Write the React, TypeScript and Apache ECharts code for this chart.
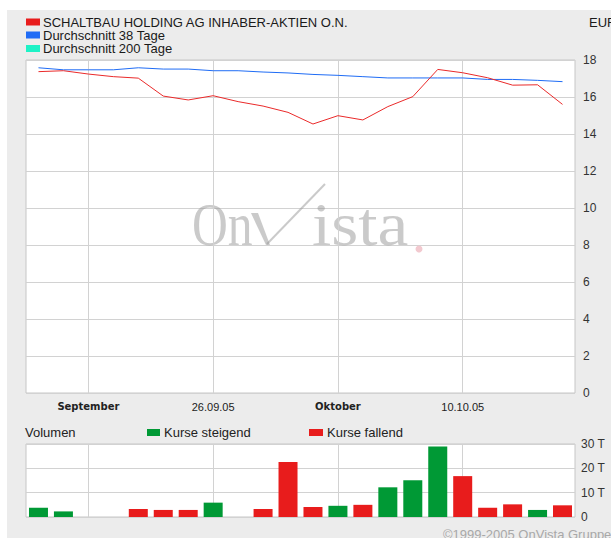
import React, { useEffect, useRef } from "react";
import * as echarts from "echarts";

// ---- data ----
const dates = [
  "15.09.05", "16.09.05", "19.09.05", "20.09.05", "21.09.05", "22.09.05", "23.09.05",
  "26.09.05", "27.09.05", "28.09.05", "29.09.05", "30.09.05", "03.10.05", "04.10.05",
  "05.10.05", "06.10.05", "07.10.05", "10.10.05", "11.10.05", "12.10.05", "13.10.05", "14.10.05",
];
const tickDates = ["19.09.05", "26.09.05", "03.10.05", "10.10.05"];
const tickTexts = ["September", "26.09.05", "Oktober", "10.10.05"];
const tickIsMonth = [true, false, true, false];

const priceName = "SCHALTBAU HOLDING AG INHABER-AKTIEN O.N.";
const ma38Name = "Durchschnitt 38 Tage";
const ma200Name = "Durchschnitt 200 Tage";

const price = [
  17.37, 17.42, 17.24, 17.1, 17.02, 16.05, 15.84, 16.07, 15.75, 15.51, 15.17,
  14.54, 14.99, 14.76, 15.48, 16.02, 17.49, 17.31, 17.04, 16.64, 16.66, 15.6,
];
const ma38 = [
  17.58, 17.47, 17.47, 17.47, 17.58, 17.51, 17.51, 17.42, 17.42, 17.35, 17.3,
  17.22, 17.17, 17.1, 17.03, 17.03, 17.03, 17.03, 16.95, 16.95, 16.9, 16.83,
];
// volume in thousands (T)
const volume = [
  3.8, 2.3, null, null, 3.3, 2.9, 2.9, 5.9, null, 3.3, 22.6,
  4.1, 4.6, 5.0, 12.2, 15.1, 29.0, 16.8, 3.8, 5.2, 2.9, 4.8,
];
const volumeUp = [
  true, true, false, false, false, false, false, true, false, false, false,
  false, true, false, true, true, true, false, false, false, true, false,
];
const priceTicks = { min: 0, max: 18, interval: 2 };
const volumeTicks = { min: 0, max: 30, interval: 10, unit: " T" };
const volumeLegend = ["Volumen", "Kurse steigend", "Kurse fallend"];
const currency = "EUR";
const copyright = "©1999-2005 OnVista Gruppe";

const RED = "#e81c1c";
const LINE_RED = "#ea2a2a";
const BLUE = "#1f6cf5";
const CYAN = "#1ef2c6";
const GREEN = "#009935";
const GRID = "#d2d2d2";
const SANS = "Liberation Sans, Arial, sans-serif";

export default function App() {
  const ref = useRef<HTMLDivElement>(null);
  useEffect(() => {
    if (!ref.current) return;
    const chart = echarts.init(ref.current, undefined, { renderer: "svg" });
    const vLines = {
      silent: true,
      symbol: ["none", "none"],
      z: 1,
      label: { show: false },
      emphasis: { disabled: true },
      lineStyle: { color: GRID, type: "solid", width: 1 },
      data: tickDates.map((d) => ({ xAxis: d })),
    };
    const legendRows = [
      { name: priceName, color: RED, y: 22 },
      { name: ma38Name, color: BLUE, y: 35 },
      { name: ma200Name, color: CYAN, y: 48.5 },
    ];
    const graphic: any[] = [];
    legendRows.forEach((r) => {
      graphic.push({
        type: "rect",
        shape: { x: 26, y: r.y - 3.5, width: 14, height: 7 },
        style: { fill: r.color },
      });
      graphic.push({
        type: "text",
        x: 43,
        y: r.y,
        style: { text: r.name, fill: "#1a1a1a", fontSize: 13, fontFamily: SANS, verticalAlign: "middle" },
      });
    });
    graphic.push({
      type: "text",
      x: 589,
      y: 22,
      style: { text: currency, fill: "#1a1a1a", fontSize: 13, fontFamily: SANS, verticalAlign: "middle" },
    });
    // volume legend
    graphic.push({
      type: "text", x: 25, y: 432,
      style: { text: volumeLegend[0], fill: "#222", fontSize: 13, fontFamily: SANS, verticalAlign: "middle" },
    });
    graphic.push({ type: "rect", shape: { x: 147, y: 429, width: 13, height: 7 }, style: { fill: GREEN } });
    graphic.push({
      type: "text", x: 164, y: 432,
      style: { text: volumeLegend[1], fill: "#222", fontSize: 13, fontFamily: SANS, verticalAlign: "middle" },
    });
    graphic.push({ type: "rect", shape: { x: 309, y: 429, width: 14, height: 7 }, style: { fill: RED } });
    graphic.push({
      type: "text", x: 327, y: 432,
      style: { text: volumeLegend[2], fill: "#222", fontSize: 13, fontFamily: SANS, verticalAlign: "middle" },
    });
    graphic.push({
      type: "text", x: 443, y: 534,
      style: { text: copyright, fill: "#a8a8a8", fontSize: 13, fontFamily: SANS, verticalAlign: "middle" },
    });
    // watermark
    const WM = "rgba(150,150,150,0.5)";
    graphic.push({
      type: "text", x: 192, y: 224, scaleX: 0.8, z: 1,
      style: { text: "On", fill: WM, fontSize: 62, fontFamily: "Liberation Serif, serif", verticalAlign: "middle" },
    });
    graphic.push({
      type: "polygon", z: 1,
      shape: { points: [[251, 213], [258, 213], [270, 245], [266, 245]] },
      style: { fill: WM },
    });
    graphic.push({
      type: "line", z: 1,
      shape: { x1: 267, y1: 244, x2: 325, y2: 184 },
      style: { stroke: WM, lineWidth: 2 },
    });
    graphic.push({
      type: "text", x: 312, y: 224, scaleX: 1.12, z: 1,
      style: { text: "ista", fill: WM, fontSize: 62, fontFamily: "Liberation Serif, serif", verticalAlign: "middle" },
    });
    graphic.push({ type: "circle", z: 1, shape: { cx: 419, cy: 249, r: 3.5 }, style: { fill: "#f2c9cf" } });

    const option: any = {
      animation: false,
      backgroundColor: "transparent",
      textStyle: { fontFamily: SANS },
      grid: [
        { left: 26, right: 36, top: 60, height: 333, show: true, backgroundColor: "#fff", borderColor: "#c6c6c6", borderWidth: 1 },
        { left: 26, right: 36, top: 444, height: 73, show: true, backgroundColor: "#fff", borderColor: "#c6c6c6", borderWidth: 1 },
      ],
      xAxis: [
        {
          type: "category", gridIndex: 0, data: dates, boundaryGap: true,
          axisLine: { show: false }, axisTick: { show: false }, splitLine: { show: false },
          axisLabel: {
            interval: (_i: number, v: string) => tickDates.includes(v),
            formatter: (v: string) => {
              const k = tickDates.indexOf(v);
              if (k < 0) return "";
              return tickIsMonth[k] ? `{m|${tickTexts[k]}}` : `{d|${tickTexts[k]}}`;
            },
            margin: 8,
            rich: {
              m: { fontFamily: "DejaVu Sans, sans-serif", fontWeight: "bold", fontSize: 10, color: "#222" },
              d: { fontFamily: SANS, fontSize: 11, color: "#222" },
            },
          },
        },
        {
          type: "category", gridIndex: 1, data: dates, boundaryGap: true,
          axisLine: { show: false }, axisTick: { show: false }, splitLine: { show: false }, axisLabel: { show: false },
        },
      ],
      yAxis: [
        {
          type: "value", gridIndex: 0, position: "right", ...priceTicks,
          axisLine: { show: false }, axisTick: { show: false },
          axisLabel: { margin: 8, fontSize: 12, color: "#333", fontFamily: SANS },
          splitLine: { lineStyle: { color: GRID, width: 1 } },
        },
        {
          type: "value", gridIndex: 1, position: "right",
          min: volumeTicks.min, max: volumeTicks.max, interval: volumeTicks.interval,
          axisLine: { show: false }, axisTick: { show: false },
          axisLabel: {
            margin: 6, fontSize: 12, color: "#333", fontFamily: SANS,
            formatter: (v: number) => (v === 0 ? "0" : v + volumeTicks.unit),
          },
          splitLine: { lineStyle: { color: GRID, width: 1 } },
        },
      ],
      series: [
        {
          name: priceName, type: "line", xAxisIndex: 0, yAxisIndex: 0, data: price,
          symbol: "none", z: 3, lineStyle: { color: LINE_RED, width: 1 }, markLine: vLines,
        },
        {
          name: ma38Name, type: "line", xAxisIndex: 0, yAxisIndex: 0, data: ma38,
          symbol: "none", z: 2, lineStyle: { color: BLUE, width: 1 },
        },
        {
          name: "Volumen", type: "bar", xAxisIndex: 1, yAxisIndex: 1, barWidth: 19, z: 2,
          data: volume.map((v, i) => ({ value: v, itemStyle: { color: volumeUp[i] ? GREEN : RED } })),
          markLine: vLines,
        },
      ],
      graphic,
    };
    chart.setOption(option);
    return () => chart.dispose();
  }, []);

  return (
    <div style={{ position: "fixed", left: 0, top: 0, width: 611, height: 538, background: "#fff" }}>
      <div style={{ position: "absolute", left: 7, top: 10, width: 604, height: 528, background: "#ececec" }} />
      <div ref={ref} style={{ position: "absolute", left: 0, top: 0, width: 611, height: 538 }} />
    </div>
  );
}
